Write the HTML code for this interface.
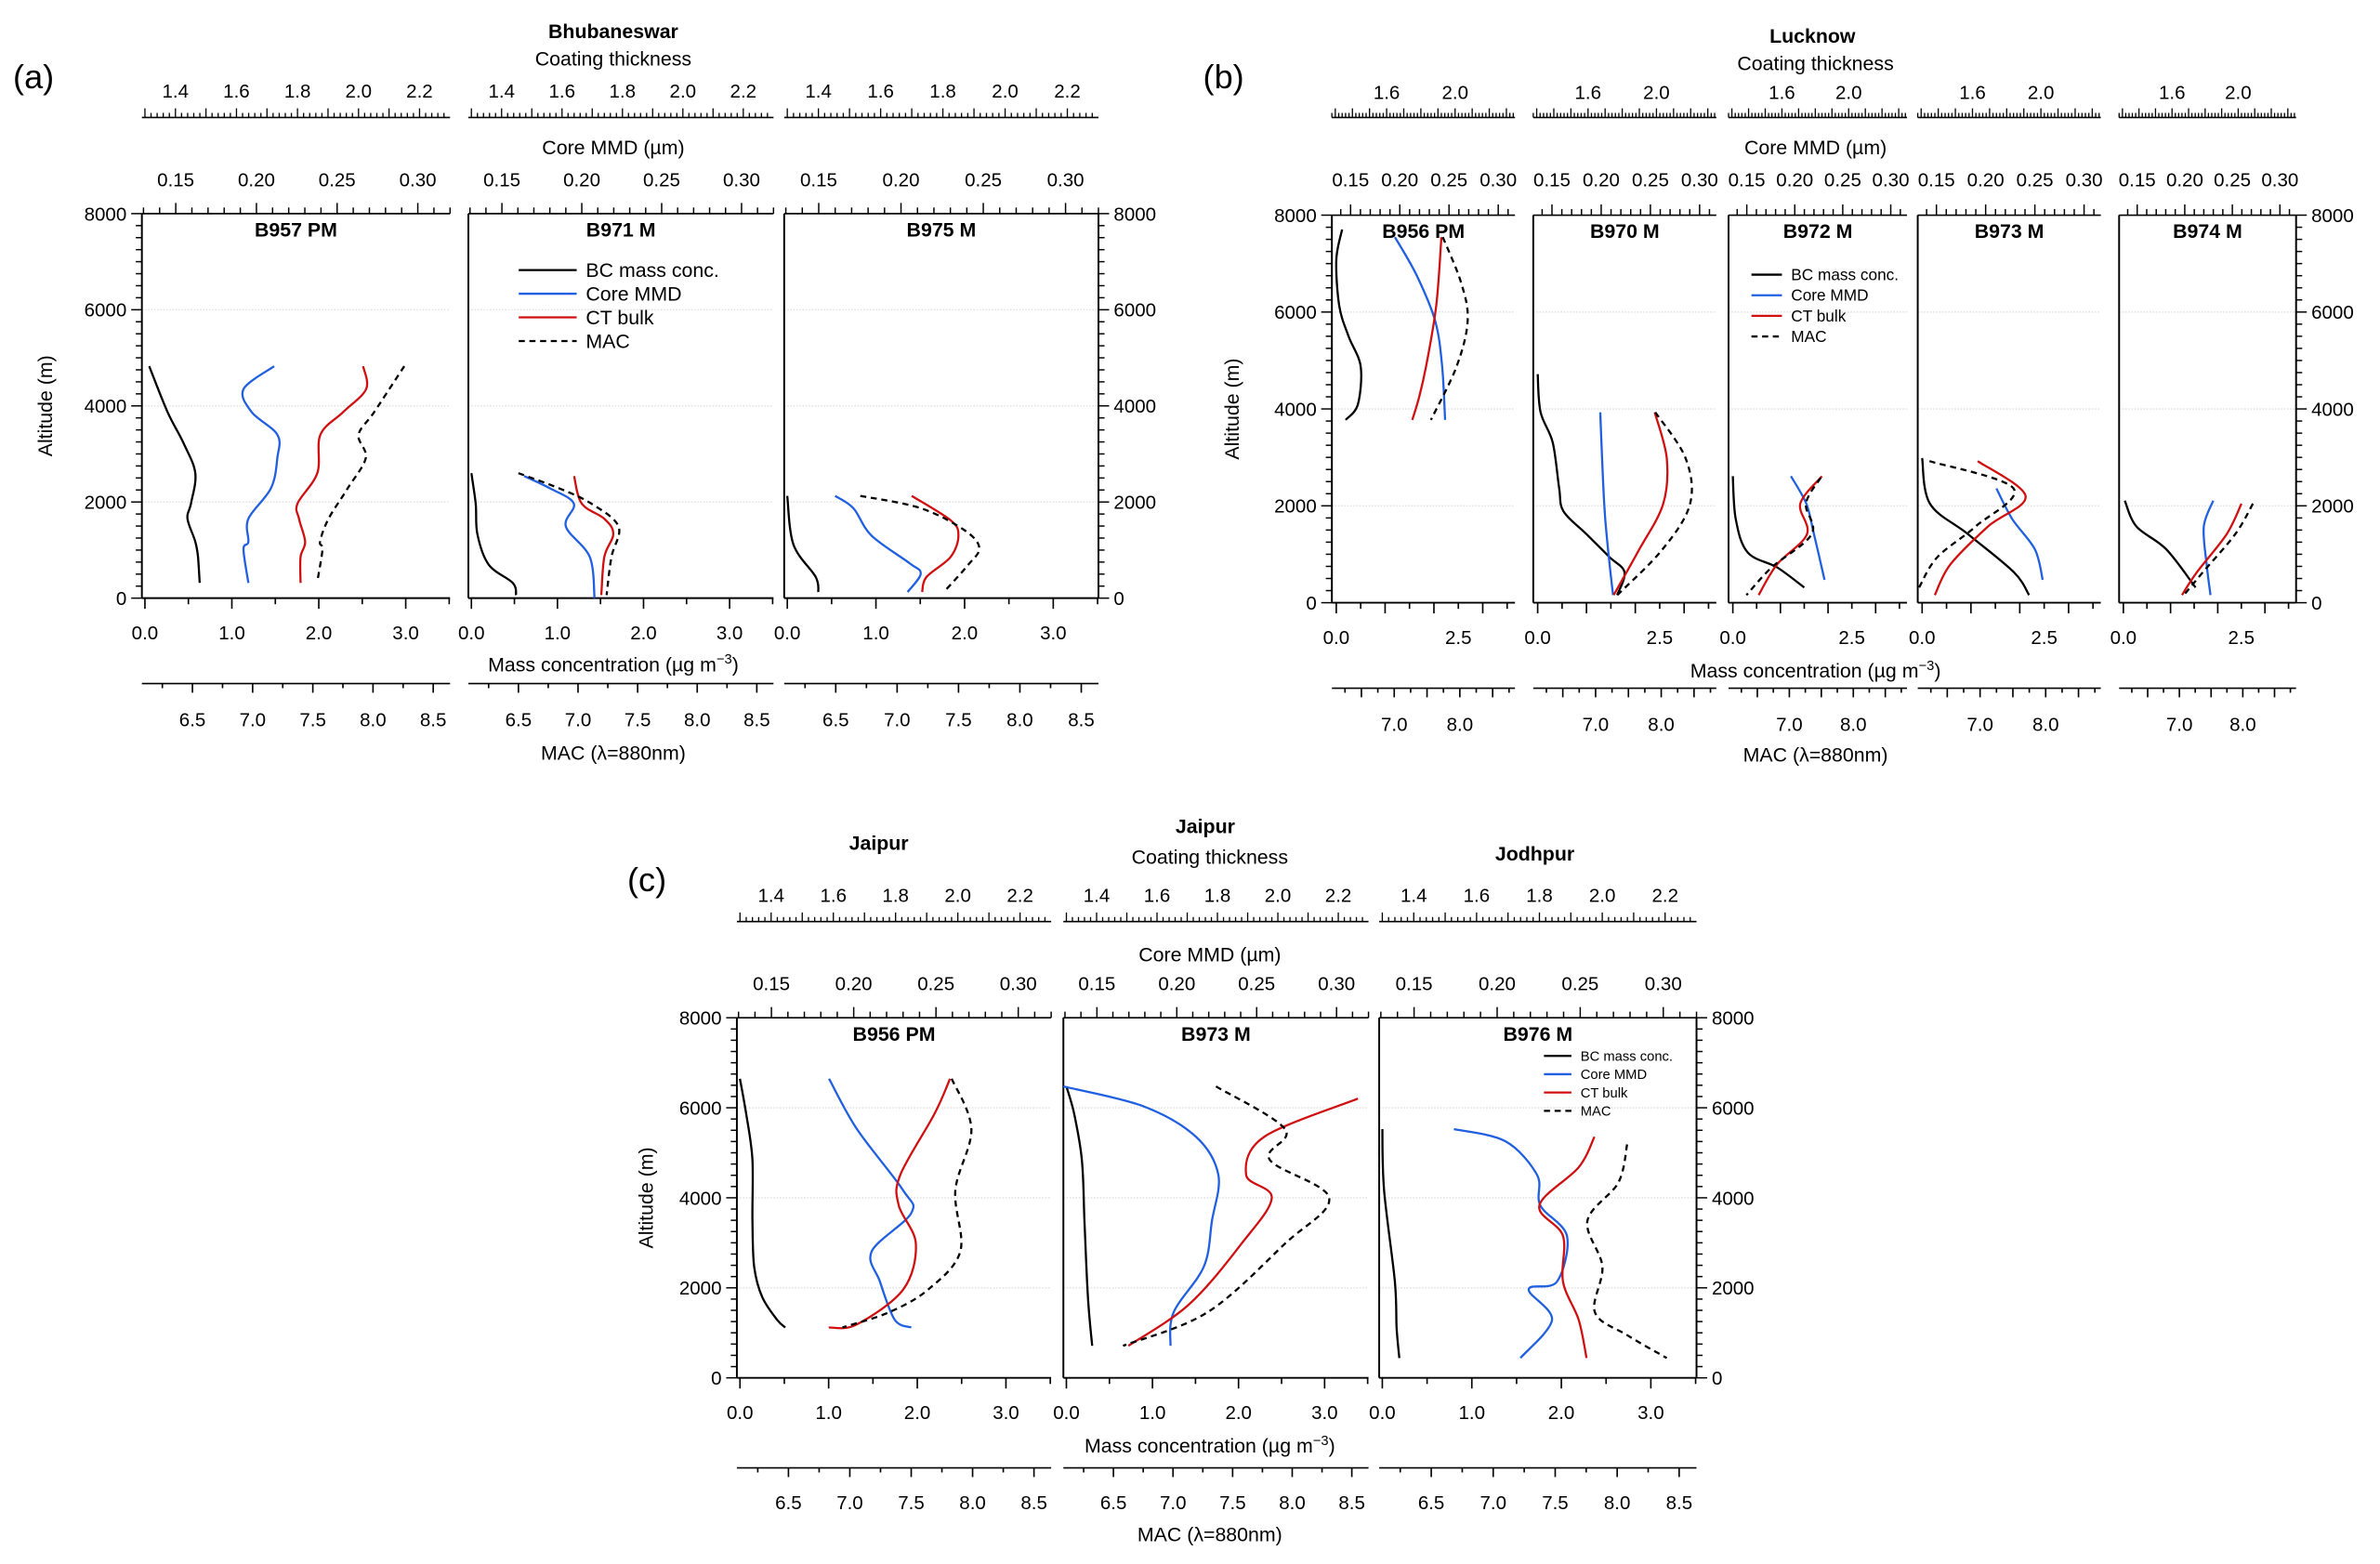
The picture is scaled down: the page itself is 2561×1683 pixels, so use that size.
<!DOCTYPE html>
<html><head><meta charset="utf-8"><style>
html,body{margin:0;padding:0;background:#fff;}
svg{display:block;font-family:"Liberation Sans",Arial,sans-serif;}
</style></head><body>
<svg id="fig" xmlns="http://www.w3.org/2000/svg" width="2561" height="1683" viewBox="0 0 1560 1025" preserveAspectRatio="none">
<rect width="1560" height="1025" fill="#fff"/>
<g id="root"></g>
</svg>
<script>
// ---- data: [value, altitude m] ----
const a1_bc=[[0.05,4825],[0.26,3873],[0.44,3238],[0.58,2603],[0.53,1968],[0.49,1651],[0.58,1175],[0.61,857],[0.63,317]];
const a1_core=[[0.211,4825],[0.192,4350],[0.197,3873],[0.213,3400],[0.213,2920],[0.209,2286],[0.195,1651],[0.195,1175],[0.192,1016],[0.195,317]];
const a1_ct=[[2.015,4825],[2.025,4350],[1.95,3873],[1.875,3400],[1.865,2603],[1.80,1968],[1.805,1651],[1.825,1175],[1.81,857],[1.81,317]];
const a1_mac=[[8.26,4825],[8.01,3873],[7.88,3400],[7.94,2920],[7.79,2286],[7.63,1651],[7.56,1175],[7.58,1016],[7.54,380]];
const a2_bc=[[0.0,2600],[0.05,1968],[0.07,1333],[0.2,698],[0.48,317],[0.52,63]];
const a2_core=[[0.164,2540],[0.18,2286],[0.195,1968],[0.19,1492],[0.205,857],[0.208,0]];
const a2_ct=[[1.64,2540],[1.665,1968],[1.74,1651],[1.77,1333],[1.74,857],[1.73,63]];
const a2_mac=[[6.5,2600],[6.84,2286],[7.11,1968],[7.34,1492],[7.28,857],[7.24,63]];
const a3_bc=[[0.0,2127],[0.07,1111],[0.32,444],[0.35,127]];
const a3_core=[[0.160,2127],[0.171,1873],[0.182,1302],[0.205,730],[0.212,508],[0.204,127]];
const a3_ct=[[1.70,2127],[1.825,1619],[1.85,1302],[1.825,857],[1.748,444],[1.733,127]];
const a3_mac=[[6.70,2127],[7.19,1873],[7.54,1429],[7.67,1048],[7.57,667],[7.38,127]];
const b1_bc=[[0.12,7704],[0.0,7075],[0.06,6132],[0.25,5503],[0.5,4874],[0.44,4088],[0.19,3774]];
const b1_core=[[0.195,7547],[0.217,6761],[0.236,5818],[0.243,4874],[0.246,3774]];
const b1_ct=[[1.92,7547],[1.89,6132],[1.83,4874],[1.79,4245],[1.75,3774]];
const b1_mac=[[7.74,7547],[8.02,6604],[8.12,5818],[7.95,4874],[7.56,3774]];
const b2_bc=[[0.0,4717],[0.06,3931],[0.31,3302],[0.44,2358],[0.53,1887],[1.0,1415],[1.47,943],[1.78,629],[1.63,157]];
const b2_core=[[0.199,3931],[0.203,2044],[0.207,1101],[0.212,157]];
const b2_ct=[[1.99,3931],[2.06,2987],[2.04,2044],[1.90,1101],[1.75,157]];
const b2_mac=[[7.91,3931],[8.37,2987],[8.44,2044],[8.02,1101],[7.33,157]];
const b3_bc=[[0.0,2610],[0.06,1730],[0.31,1038],[0.94,723],[1.5,314]];
const b3_core=[[0.196,2610],[0.212,2044],[0.22,1415],[0.231,472]];
const b3_ct=[[1.84,2610],[1.71,2044],[1.75,1415],[1.57,786],[1.46,157]];
const b3_mac=[[7.49,2580],[7.26,2044],[7.35,1415],[6.72,723],[6.33,157]];
const b4_bc=[[0.0,2987],[0.16,2044],[0.94,1415],[1.88,629],[2.19,157]];
const b4_core=[[0.211,2358],[0.227,1730],[0.25,1101],[0.258,472]];
const b4_ct=[[1.63,2924],[1.91,2201],[1.69,1572],[1.47,786],[1.38,157]];
const b4_mac=[[6.23,2924],[7.51,2358],[6.93,1572],[6.35,943],[6.07,314]];
const b5_bc=[[0.03,2107],[0.28,1572],[0.91,1101],[1.53,314]];
const b5_core=[[0.23,2107],[0.22,1572],[0.223,786],[0.227,157]];
const b5_ct=[[2.02,2044],[1.93,1415],[1.75,629],[1.66,157]];
const b5_mac=[[8.16,2044],[7.88,1415],[7.37,629],[7.07,157]];
const c1_bc=[[0.0,6644],[0.07,5864],[0.14,4847],[0.14,3492],[0.16,2475],[0.25,1797],[0.42,1288],[0.51,1119]];
const c1_core=[[0.185,6644],[0.202,5525],[0.23,4169],[0.235,3661],[0.211,2814],[0.216,2136],[0.225,1288],[0.235,1119]];
const c1_ct=[[1.975,6644],[1.925,5864],[1.815,4508],[1.81,3831],[1.865,2983],[1.825,1966],[1.675,1186],[1.585,1119]];
const c1_mac=[[7.83,6644],[7.99,5525],[7.86,4169],[7.9,2814],[7.64,1966],[7.32,1458],[6.94,1119]];
const c2_bc=[[0.0,6475],[0.09,5864],[0.18,4847],[0.21,3492],[0.25,1797],[0.3,712]];
const c2_core=[[0.129,6475],[0.179,6034],[0.212,5356],[0.226,4508],[0.222,3492],[0.217,2475],[0.198,1458],[0.196,712]];
const c2_ct=[[2.265,6203],[1.955,5356],[1.895,4508],[1.98,4000],[1.88,2983],[1.705,1627],[1.505,712]];
const c2_mac=[[7.36,6475],[7.94,5525],[7.81,4847],[8.31,4000],[7.94,2983],[7.29,1458],[6.58,712]];
const c3_bc=[[0.0,5525],[0.02,4169],[0.14,2136],[0.16,1119],[0.19,441]];
const c3_core=[[0.174,5525],[0.205,5254],[0.224,4508],[0.226,3831],[0.242,3153],[0.236,2136],[0.219,1966],[0.233,1288],[0.214,441]];
const c3_ct=[[1.975,5356],[1.925,4678],[1.80,3831],[1.875,3153],[1.875,2136],[1.925,1288],[1.95,441]];
const c3_mac=[[8.08,5186],[8.01,4339],[7.76,3492],[7.88,2475],[7.82,1458],[8.08,949],[8.4,441]];
// ---- tick label arrays ----
const coatTicksFull=[1.4,1.6,1.8,2.0,2.2];
const coreTicks=[0.15,0.20,0.25,0.30];
const massTicksFull=[0,1,2,3];
const macTicksFull=[6.5,7.0,7.5,8.0,8.5];
const coatTicksB=[1.6,2.0];
const massTicksB=[0,2.5];
const macTicksB=[7.0,8.0];
const altTicks=[0,2000,4000,6000,8000];

const NS='http://www.w3.org/2000/svg';
const root=document.getElementById('root');
function el(tag,attrs,parent,txt){const e=document.createElementNS(NS,tag);for(const k in attrs)e.setAttribute(k,attrs[k]);if(txt!==undefined)e.textContent=txt;(parent||root).appendChild(e);return e;}
function lin(d0,d1,r0,r1){return v=>r0+(v-d0)/(d1-d0)*(r1-r0);}
function smooth(pts){let d='M'+pts[0][0].toFixed(1)+','+pts[0][1].toFixed(1);for(let i=0;i<pts.length-1;i++){const p0=pts[i-1]||pts[i],p1=pts[i],p2=pts[i+1],p3=pts[i+2]||p2;const c1=[p1[0]+(p2[0]-p0[0])/6,p1[1]+(p2[1]-p0[1])/6],c2=[p2[0]-(p3[0]-p1[0])/6,p2[1]-(p3[1]-p1[1])/6];d+=' C'+c1.map(v=>v.toFixed(1))+' '+c2.map(v=>v.toFixed(1))+' '+p2.map(v=>v.toFixed(1));}return d;}
function fmt(v,dp){return v.toFixed(dp);}

const domA={mass:[-0.035,3.51],coat:[1.29,2.30],core:[0.129,0.32],mac:[6.08,8.64]};
const domB={mass:[-0.09,3.66],coat:[1.28,2.35],core:[0.131,0.317],mac:[6.05,8.84]};

function panel(P){
  const g=el('g',{});
  
  
  const y=lin(0,8000,P.yBot,P.yTop);
  P.subs.forEach((S,si)=>{
    const [x0,x1]=S.box;const D=P.dom;
    const sg=el('g',{},g);
    
    
    const xm=lin(D.mass[0],D.mass[1],x0,x1),xc=lin(D.coat[0],D.coat[1],x0,x1),xr=lin(D.core[0],D.core[1],x0,x1),xa=lin(D.mac[0],D.mac[1],x0,x1);
    [2000,4000,6000].forEach(a=>el('line',{x1:x0,x2:x1,y1:y(a),y2:y(a),stroke:'#e4e4e4','stroke-dasharray':'1,1','stroke-width':1},sg));
    el('line',{x1:x0,x2:x0,y1:P.yTop,y2:P.yBot,stroke:'#000','stroke-width':1.2},sg);
    el('line',{x1:x0,x2:x1,y1:P.yBot,y2:P.yBot,stroke:'#000','stroke-width':1.2},sg);
    el('line',{x1:x0,x2:x1,y1:P.yTop,y2:P.yTop,stroke:'#000','stroke-width':1},sg);
    if(si===P.subs.length-1) el('line',{x1:x1,x2:x1,y1:P.yTop,y2:P.yBot,stroke:'#000','stroke-width':1.2},sg);
    el('line',{x1:x0,x2:x1,y1:P.coatY,y2:P.coatY,stroke:'#000','stroke-width':1},sg);
    for(let v=Math.ceil(D.coat[0]*50)/50;v<=D.coat[1];v+=0.02){const X=xc(v);const maj=Math.abs(v*10-Math.round(v*10))<0.01;el('line',{x1:X,x2:X,y1:P.coatY,y2:P.coatY-(maj?6:3),stroke:'#000','stroke-width':0.8},sg);}
    P.coatT.forEach(v=>el('text',{x:xc(v),y:P.coatLab,'font-size':12.5,'text-anchor':'middle'},sg,fmt(v,1)));
    for(let v=Math.ceil(D.core[0]*100)/100;v<=D.core[1]+1e-9;v+=0.01){const X=xr(v);const maj=Math.abs(v*20-Math.round(v*20))<0.01;el('line',{x1:X,x2:X,y1:P.yTop,y2:P.yTop-(maj?7:4),stroke:'#000','stroke-width':0.9},sg);}
    coreTicks.forEach(v=>el('text',{x:xr(v),y:P.coreLab,'font-size':12.5,'text-anchor':'middle'},sg,fmt(v,2)));
    for(let v=0;v<=D.mass[1];v+=0.5){const X=xm(v);el('line',{x1:X,x2:X,y1:P.yBot,y2:P.yBot+(Math.abs(v-Math.round(v))<0.01?7:4),stroke:'#000','stroke-width':1},sg);}
    P.massT.forEach(v=>el('text',{x:xm(v),y:P.massLab,'font-size':12.5,'text-anchor':'middle'},sg,fmt(v,1)));
    el('line',{x1:x0,x2:x1,y1:P.macY,y2:P.macY,stroke:'#000','stroke-width':1},sg);
    for(let v=Math.ceil(D.mac[0]*4)/4;v<=D.mac[1];v+=0.25){const X=xa(v);el('line',{x1:X,x2:X,y1:P.macY,y2:P.macY+(Math.abs(v*2-Math.round(v*2))<0.01?6:3),stroke:'#000','stroke-width':1},sg);}
    P.macT.forEach(v=>el('text',{x:xa(v),y:P.macLab,'font-size':12.5,'text-anchor':'middle'},sg,fmt(v,1)));
    if(si===0||si===P.subs.length-1){const X=si===0?x0:x1;const dir=si===0?-1:1;
      for(let a=0;a<=8000;a+=250){const mj=a%2000===0;el('line',{x1:X,x2:X+dir*(mj?7:4),y1:y(a),y2:y(a),stroke:'#000','stroke-width':0.9},sg);}
      altTicks.forEach(a=>el('text',{x:X+dir*10,y:y(a)+4.5,'font-size':12.5,'text-anchor':si===0?'end':'start'},sg,String(a)));}
    el('text',{x:(x0+x1)/2,y:P.yTop+15,'font-size':13,'font-weight':'bold','text-anchor':'middle'},sg,S.title);
    const ser=[[S.bc,xm,'#000',''],[S.core,xr,'#1f5fe0',''],[S.ct,xc,'#d01010',''],[S.mac,xa,'#000','4,3']];
    const nm=['bc-mass-line','core-mmd-line','ct-bulk-line','mac-line'];
    ser.forEach((s,k)=>{const pts=s[0].map(p=>[s[1](p[0]),y(p[1])]);const p=el('path',{d:smooth(pts),fill:'none',stroke:s[2],'stroke-width':1.4},sg);if(s[3])p.setAttribute('stroke-dasharray',s[3]);
      
      });
  });
  const cx=P.cx;
  el('text',{x:cx,y:P.coatTitleY,'font-size':13,'text-anchor':'middle'},g,'Coating thickness');
  el('text',{x:cx,y:P.coreTitleY,'font-size':13,'text-anchor':'middle'},g,'Core MMD (\u00b5m)');
  const mt=el('text',{x:cx,y:P.massTitleY,'font-size':13,'text-anchor':'middle'},g,'Mass concentration (\u00b5g m');
  el('tspan',{'font-size':9,dy:-5},mt,'\u22123');el('tspan',{dy:5},mt,')');
  el('text',{x:cx,y:P.macTitleY,'font-size':13,'text-anchor':'middle'},g,'MAC (\u03bb=880nm)');
  el('text',{x:0,y:0,'font-size':13,'text-anchor':'middle',transform:`translate(${P.yTitleX},${(P.yTop+P.yBot)/2}) rotate(-90)`},g,'Altitude (m)');
  return g;
}

const pA={name:'panel-a',dom:domA,yTop:140,yBot:392,coatY:77,coatLab:64,coreLab:122,massLab:419,macY:448,macLab:476,coatT:coatTicksFull,massT:massTicksFull,macT:macTicksFull,
 cx:402,coatTitleY:43,coreTitleY:101,massTitleY:440,macTitleY:498,yTitleX:34,
 subs:[{box:[93,295],title:'B957 PM',bc:a1_bc,core:a1_core,ct:a1_ct,mac:a1_mac},{box:[307,507],title:'B971 M',bc:a2_bc,core:a2_core,ct:a2_ct,mac:a2_mac},{box:[514,720],title:'B975 M',bc:a3_bc,core:a3_core,ct:a3_ct,mac:a3_mac}]};
const pB={name:'panel-b',dom:domB,yTop:141,yBot:395,coatY:77,coatLab:65,coreLab:122,massLab:422,macY:451,macLab:479,coatT:coatTicksB,massT:massTicksB,macT:macTicksB,
 cx:1190,coatTitleY:46,coreTitleY:101,massTitleY:444,macTitleY:499,yTitleX:812,
 subs:[{box:[873,993],title:'B956 PM',bc:b1_bc,core:b1_core,ct:b1_ct,mac:b1_mac},{box:[1005,1125],title:'B970 M',bc:b2_bc,core:b2_core,ct:b2_ct,mac:b2_mac},{box:[1133,1250],title:'B972 M',bc:b3_bc,core:b3_core,ct:b3_ct,mac:b3_mac},{box:[1257,1377],title:'B973 M',bc:b4_bc,core:b4_core,ct:b4_ct,mac:b4_mac},{box:[1389,1505],title:'B974 M',bc:b5_bc,core:b5_core,ct:b5_ct,mac:b5_mac}]};
const pC={name:'panel-c',dom:domA,yTop:667,yBot:903,coatY:604,coatLab:591,coreLab:649,massLab:930,macY:962,macLab:989,coatT:coatTicksFull,massT:massTicksFull,macT:macTicksFull,
 cx:793,coatTitleY:566,coreTitleY:630,massTitleY:952,macTitleY:1010,yTitleX:428,
 subs:[{box:[483,689],title:'B956 PM',bc:c1_bc,core:c1_core,ct:c1_ct,mac:c1_mac},{box:[697,897],title:'B973 M',bc:c2_bc,core:c2_core,ct:c2_ct,mac:c2_mac},{box:[904,1112],title:'B976 M',bc:c3_bc,core:c3_core,ct:c3_ct,mac:c3_mac}]};
[pA,pB,pC].forEach(panel);

function T(x,y,s,t,w,name){const e=el('text',{x:x,y:y,'font-size':s,'text-anchor':'middle','font-weight':w||'normal'},root,t);
  
  }
T(22,58,22,'(a)','normal','panel-label-a');
T(802,58,22,'(b)','normal','panel-label-b');
T(424,584,22,'(c)','normal','panel-label-c');
T(402,25,13,'Bhubaneswar','bold','site-title-bhubaneswar');
T(1188,28,13,'Lucknow','bold','site-title-lucknow');
T(576,557,13,'Jaipur','bold','site-title-jaipur-1');
T(790,546,13,'Jaipur','bold','site-title-jaipur-2');
T(1006,564,13,'Jodhpur','bold','site-title-jodhpur');

function legend(x,y,dy,len,fs,name){const g=el('g',{});
  
  
  const items=[['BC mass conc.','#000',''],['Core MMD','#1f5fe0',''],['CT bulk','#d01010',''],['MAC','#000','4,3']];
  items.forEach((it,i)=>{const yy=y+i*dy;const l=el('line',{x1:x,x2:x+len,y1:yy,y2:yy,stroke:it[1],'stroke-width':1.4},g);if(it[2])l.setAttribute('stroke-dasharray',it[2]);
    el('text',{x:x+len+6,y:yy+fs*0.35,'font-size':fs},g,it[0]);});}
legend(340,177,15.5,38,13,'legend-a');
legend(1148,180,13.5,20,10.5,'legend-b');
legend(1012,692,12,18,9,'legend-c');
</script>
</body></html>
